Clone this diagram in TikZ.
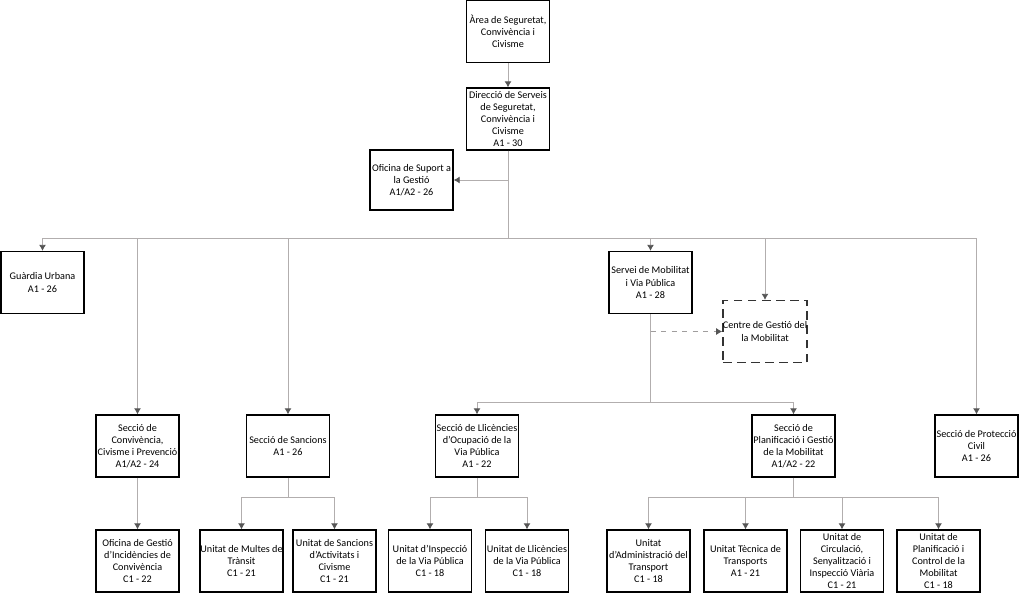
\documentclass[tikz,border=0pt]{standalone}
\usepackage{fontspec}
\setmainfont{Carlito}
\usetikzlibrary{arrows.meta}

\definecolor{linegray}{RGB}{178,174,174}
\definecolor{tipgray}{RGB}{85,85,85}

\tikzstyle{unit}=[rectangle,draw=black,line width=0.8pt,align=center,font=\fontsize{5.8}{6.85}\selectfont,minimum width=1.66cm,minimum height=1.24cm,inner sep=0pt]
\tikzstyle{link}=[draw=linegray,line width=0.5pt]

\begin{document}
\begin{tikzpicture}[x=0.02cm,y=-0.02cm,>={Latex[length=0.12cm,width=0.14cm,color=tipgray]}]
	\useasboundingbox (0,0) rectangle (1024,596);

	% Top
	\node[unit] (area) at (508,31.5) {Àrea de Seguretat,\\Convivència i\\Civisme};
	\node[unit] (dir) at (508,119) {Direcció de Serveis\\de Seguretat,\\Convivència i\\Civisme\\A1 - 30};
	\node[unit,minimum height=1.2cm] (sup) at (411.5,180) {Oficina de Suport a\\la Gestió\\A1/A2 - 26};

	% Services
	\node[unit] (guardia) at (42.5,282.5) {Guàrdia Urbana\\A1 - 26};
	\node[unit] (servei) at (650.5,282.5) {Servei de Mobilitat\\i Via Pública\\A1 - 28};
	\node[unit,dashed,dash pattern=on 5pt off 3pt,draw=black!80] (centre) at (765,331.5) {Centre de Gestió del\\la Mobilitat};

	% Sections
	\node[unit] (conv) at (137.5,446) {Secció de\\Convivència,\\Civisme i Prevenció\\A1/A2 - 24};
	\node[unit] (sanc) at (288,446) {Secció de Sancions\\A1 - 26};
	\node[unit] (llic) at (477,446) {Secció de Llicències\\d’Ocupació de la\\Via Pública\\A1 - 22};
	\node[unit] (planif) at (793.5,446) {Secció de\\Planificació i Gestió\\de la Mobilitat\\A1/A2 -  22};
	\node[unit] (protec) at (976.5,446) {Secció de Protecció\\Civil\\A1 - 26};

	% Units
	\node[unit] (ofgest) at (137.5,561) {Oficina de Gestió\\d’Incidències de\\Convivència\\C1 - 22};
	\node[unit] (multes) at (241.5,561) {Unitat de Multes de\\Trànsit\\C1 - 21};
	\node[unit] (sancact) at (334.5,561) {Unitat de Sancions\\d’Activitats i\\Civisme\\C1 - 21};
	\node[unit] (insp) at (430,561) {Unitat d’Inspecció\\de la Via Pública\\C1 - 18};
	\node[unit] (llicvp) at (527,561) {Unitat de Llicències\\de la Via Pública\\C1 - 18};
	\node[unit] (admin) at (648.5,561) {Unitat\\d’Administració del\\Transport\\C1 - 18};
	\node[unit] (tecn) at (745.5,561) {Unitat Tècnica de\\Transports\\A1 - 21};
	\node[unit] (circ) at (842,561) {Unitat de\\Circulació,\\Senyalització i\\Inspecció Viària\\C1 - 21};
	\node[unit] (control) at (938.5,561) {Unitat de\\Planificació i\\Control de la\\Mobilitat\\C1 - 18};

	% Buses
	\coordinate (bus) at (508,238);
	\coordinate (mobbus) at (650.5,402);
	\coordinate (sancbus) at (288,497);
	\coordinate (llicbus) at (477,497);
	\coordinate (planbus) at (793.5,497);

	\draw[link,->] (area) -- (dir);
	\draw[link] (dir.south) -- (bus);
	\draw[link,->] (dir.south) |- (sup.east);
	\draw[link,->] (bus) -| (guardia.north);
	\draw[link,->] (bus) -| (conv.north);
	\draw[link,->] (bus) -| (sanc.north);
	\draw[link,->] (bus) -| (servei.north);
	\draw[link,->] (bus) -| (centre.north);
	\draw[link,->] (bus) -| (protec.north);

	\draw[link] (servei.south) -- (mobbus);
	\draw[link,->,dashed,draw=linegray!90!black] (servei.south |- centre.west) -- (centre.west);
	\draw[link,->] (mobbus) -| (llic.north);
	\draw[link,->] (mobbus) -| (planif.north);

	\draw[link,->] (conv) -- (ofgest);
	\draw[link] (sanc.south) -- (sancbus);
	\draw[link,->] (sancbus) -| (multes.north);
	\draw[link,->] (sancbus) -| (sancact.north);
	\draw[link] (llic.south) -- (llicbus);
	\draw[link,->] (llicbus) -| (insp.north);
	\draw[link,->] (llicbus) -| (llicvp.north);
	\draw[link] (planif.south) -- (planbus);
	\draw[link,->] (planbus) -| (admin.north);
	\draw[link,->] (planbus) -| (tecn.north);
	\draw[link,->] (planbus) -| (circ.north);
	\draw[link,->] (planbus) -| (control.north);
\end{tikzpicture}
\end{document}
